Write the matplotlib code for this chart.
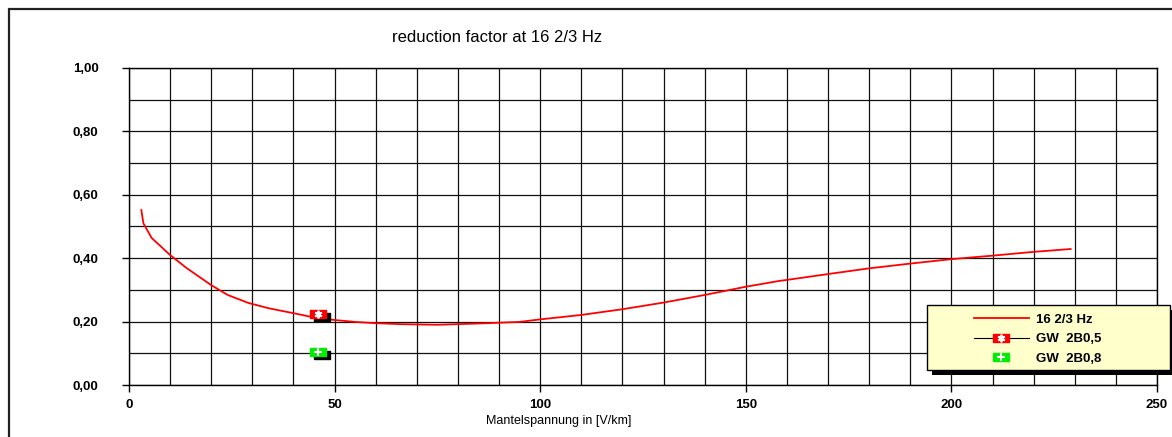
import matplotlib
matplotlib.use('Agg')
import matplotlib.pyplot as plt
import matplotlib.patches as mpatches
import matplotlib.transforms as mtransforms
from matplotlib.legend_handler import HandlerTuple
from matplotlib.ticker import MultipleLocator, FuncFormatter

plt.rcParams['font.family'] = ['Liberation Sans', 'DejaVu Sans']

# curve: reduction factor over sheath voltage
spannung = [3, 3.5, 5.5, 10, 14, 20, 24, 29, 34, 41, 45, 50, 55, 60, 66, 75, 85, 95,
            100, 110, 120, 130, 140, 150, 158, 163, 170, 180, 190, 200, 210, 220, 229]
faktor = [0.552, 0.51, 0.464, 0.41, 0.369, 0.315, 0.284, 0.259, 0.242, 0.224, 0.213,
          0.205, 0.199, 0.195, 0.192, 0.190, 0.194, 0.199, 0.207, 0.221, 0.239, 0.26,
          0.284, 0.31, 0.328, 0.337, 0.35, 0.368, 0.383, 0.397, 0.408, 0.42, 0.429]

# single measurements
gw05_x = [46]
gw05_y = [0.225]
gw08_x = [46]
gw08_y = [0.105]

W, H = 1172, 437
fig = plt.figure(figsize=(W / 100, H / 100), dpi=100)
ax = fig.add_axes([129 / W, 1 - 385 / H, (1157 - 129) / W, (385 - 68) / H])

ax.plot(spannung, faktor, color='#ff0000', lw=1.3, zorder=3, label='16 2/3 Hz')

rect = [(-1, -0.53), (1, -0.53), (1, 0.53), (-1, 0.53), (-1, -0.53)]
shift = mtransforms.offset_copy(ax.transData, fig=fig, x=4, y=-3, units='dots')

ax.plot(gw05_x, gw05_y, ls='none', marker=rect, ms=12, mfc='black', mec='black',
        transform=shift, zorder=4)
ax.plot(gw08_x, gw08_y, ls='none', marker=rect, ms=12, mfc='black', mec='black',
        transform=shift, zorder=4)
r1, = ax.plot(gw05_x, gw05_y, color='black', lw=0.8, marker=rect, ms=12,
              mfc='#ff0000', mec='#ff0000', zorder=5)
s1, = ax.plot(gw05_x, gw05_y, ls='none', marker=(6, 2, 0), ms=5.5, mew=1.3,
              mec='white', zorder=6)
r2, = ax.plot(gw08_x, gw08_y, ls='none', marker=rect, ms=12,
              mfc='#00ee00', mec='#00ee00', zorder=5)
s2, = ax.plot(gw08_x, gw08_y, ls='none', marker='+', ms=5.5, mew=1.5,
              mec='white', zorder=6)

ax.set_xlim(0, 250)
ax.set_ylim(0, 1.0)
ax.xaxis.set_major_locator(MultipleLocator(50))
ax.xaxis.set_minor_locator(MultipleLocator(10))
ax.yaxis.set_major_locator(MultipleLocator(0.2))
ax.yaxis.set_minor_locator(MultipleLocator(0.1))
ax.yaxis.set_major_formatter(FuncFormatter(lambda v, p: f'{v:.2f}'.replace('.', ',')))
ax.grid(True, which='both', color='#111111', lw=0.9)
ax.set_axisbelow(True)
for s in ax.spines.values():
    s.set_color('black')
    s.set_linewidth(1.0)
ax.tick_params(which='major', direction='out', length=5, width=1, labelsize=9.5)
ax.tick_params(which='minor', length=0)
ax.tick_params(axis='y', pad=17)
ax.tick_params(axis='x', pad=5)
for lab in ax.get_xticklabels() + ax.get_yticklabels():
    lab.set_fontweight('bold')

fig.text(497 / W, 1 - 38 / H, 'reduction factor at 16 2/3 Hz', ha='center', va='center',
         fontsize=12)
fig.text(559 / W, 1 - 421 / H, 'Mantelspannung in [V/km]', ha='center', va='center',
         fontsize=9)

# outer frame
fig.patches.append(mpatches.Rectangle((9 / W, -0.2), 1.2, 1.2 - 9 / H,
                                      transform=fig.transFigure, fill=False,
                                      ec='#222222', lw=1.6, zorder=1))

# legend box with shadow
bx, by, bw, bh = 927 / W, 1 - 370 / H, 243 / W, 65 / H
fig.patches.append(mpatches.Rectangle((bx + 5 / W, by - 5 / H), bw, bh,
                                      transform=fig.transFigure, fc='black',
                                      ec='black', lw=0, zorder=3))
fig.patches.append(mpatches.Rectangle((bx, by), bw, bh, transform=fig.transFigure,
                                      fc='#ffffcc', ec='black', lw=1.0, zorder=4))

h0 = ax.get_lines()[0]
leg = fig.legend([h0, (r1, s1), (r2, s2)], ['16 2/3 Hz', 'GW  2B0,5', 'GW  2B0,8'],
                 handler_map={tuple: HandlerTuple(ndivide=1, pad=0)},
                 loc='upper left', bbox_to_anchor=(967 / W, 1 - 307 / H),
                 bbox_transform=fig.transFigure, frameon=False, borderpad=0,
                 handlelength=4.2, handletextpad=0.5, labelspacing=0.55,
                 prop={'weight': 'bold', 'size': 9.5})
leg.set_zorder(5)

fig.savefig('out.png', dpi=100)
